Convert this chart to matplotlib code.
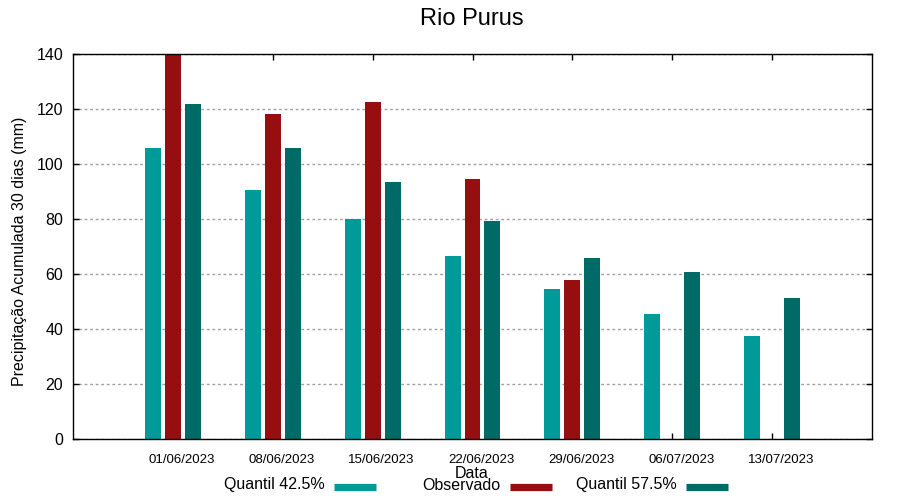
import matplotlib
matplotlib.use("Agg")
import matplotlib.pyplot as plt
import matplotlib.transforms as mtransforms
from matplotlib.lines import Line2D
import numpy as np

plt.rcParams['font.family'] = ['Liberation Sans', 'DejaVu Sans']

dates = ["01/06/2023", "08/06/2023", "15/06/2023", "22/06/2023",
         "29/06/2023", "06/07/2023", "13/07/2023"]
q425 = [105.8, 90.5, 80.0, 66.5, 54.5, 45.5, 37.5]
observado = [140.0, 118.2, 122.5, 94.5, 57.8, np.nan, np.nan]
q575 = [121.8, 105.8, 93.5, 79.3, 65.8, 60.7, 51.3]

series_names = ["Quantil 42.5%", "Observado", "Quantil 57.5%"]
colors = ["#009a99", "#960e0f", "#006a66"]

fig = plt.figure(figsize=(9, 5), dpi=100)
ax = fig.add_axes([73/900, 61/500, 799/900, 385/500])

x = np.arange(len(dates))
w = 0.16
for off, vals, c in zip([-0.2, 0.0, 0.2], [q425, observado, q575], colors):
    ax.bar(x + off, vals, width=w, color=c, zorder=3)

ax.set_xlim(-1, 7)
ax.set_ylim(0, 140)
ax.set_yticks(np.arange(0, 141, 20))
ax.set_xticks(x)
ax.set_xticklabels(dates, fontsize=9.5)
ax.tick_params(axis='y', labelsize=11.5, direction='in', length=4.5, width=1,
               right=True, pad=7)
ax.tick_params(axis='x', direction='in', length=4.5, width=1, top=True, pad=11)
offset = mtransforms.ScaledTranslation(9/100, 0, fig.dpi_scale_trans)
for lab in ax.get_xticklabels():
    lab.set_transform(lab.get_transform() + offset)

ax.yaxis.grid(True, color='#a0a0a0', linestyle=(0, (2, 2)), linewidth=1, zorder=0)
for s in ax.spines.values():
    s.set_linewidth(1)
    s.set_zorder(4)

fig.text(472/900, 1 - 19/500, "Rio Purus", ha='center', va='center', fontsize=17)
fig.text(20/900, 1 - 251/500, "Precipitação Acumulada 30 dias (mm)", rotation=90,
         ha='center', va='center', fontsize=11.5)
fig.text(472/900, 1 - 474/500, "Data", ha='center', va='center', fontsize=11.5)

# legend (gnuplot-style: text then sample)
text_right = [325, 500, 677]
sample = [(334, 376), (510, 552), (686, 728)]
ly = 1 - 487/500
for name, c, tr, (s0, s1) in zip(series_names, colors, text_right, sample):
    fig.text(tr/900, 1 - 485/500, name, ha='right', va='center', fontsize=11.5)
    fig.add_artist(Line2D([s0/900, s1/900], [ly, ly], color=c, linewidth=5.2,
                          solid_capstyle='butt', transform=fig.transFigure))

fig.savefig("out.png", dpi=100)
